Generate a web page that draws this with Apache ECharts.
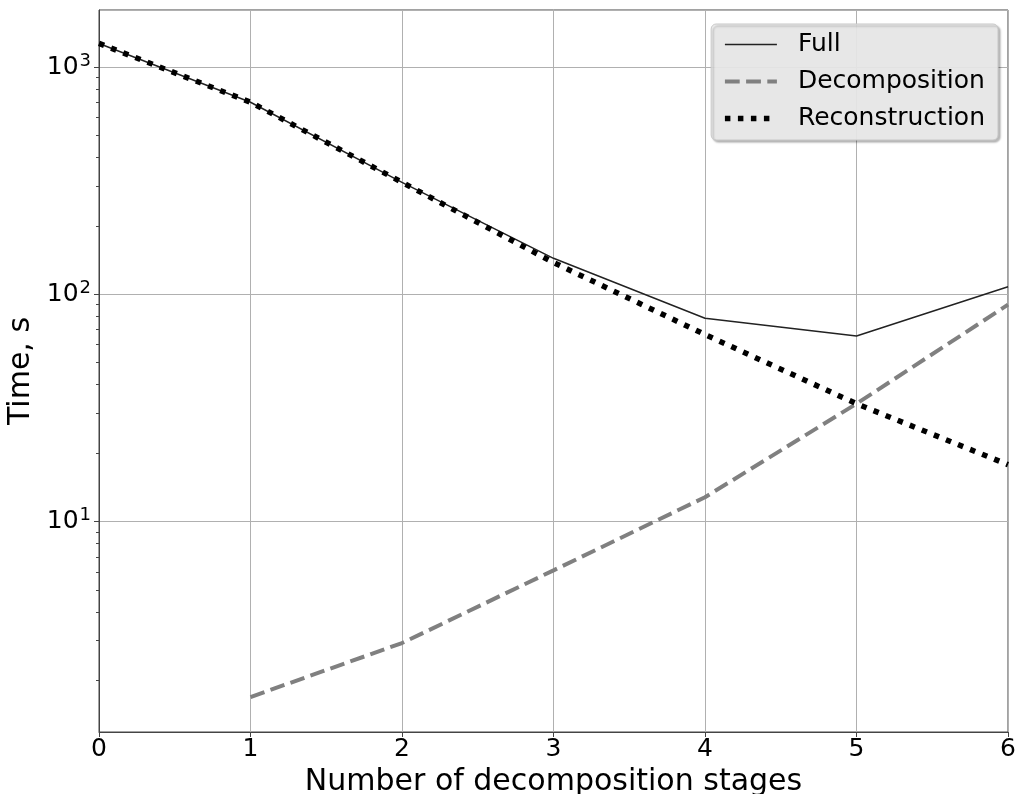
<!DOCTYPE html>
<html>
<head>
<meta charset="utf-8">
<script src="https://cdn.jsdelivr.net/npm/echarts@6/dist/echarts.min.js"></script>
<style>html,body{margin:0;padding:0;background:#fff}#c{width:1019px;height:794px}</style>
</head>
<body>
<div id="c"></div>
<script>
const stages = [0, 1, 2, 3, 4, 5, 6];
const fullTime = [1270, 700, 311, 144, 78.5, 65.5, 108];
const decompTime = [null, 1.69, 2.92, 6.1, 12.8, 33, 90];
const reconTime = [1270, 700, 311, 138, 66.5, 33, 17.8];
const xTicks = [0, 1, 2, 3, 4, 5, 6];
const yMajorTicks = [10, 100, 1000];
const yMinorTicks = [2,3,4,5,6,7,8,9,20,30,40,50,60,70,80,90,200,300,400,500,600,700,800,900];
const yMin = 1.186, yMax = 1782;

const pairs = arr => stages.map((s, i) => [s, arr[i]]).filter(p => p[1] != null);

const chart = echarts.init(document.getElementById('c'), null, {renderer: 'canvas'});
const FONT = 'DejaVu Sans';
chart.setOption({
  animation: false,
  textStyle: {fontFamily: FONT},
  grid: {left: 99, top: 10, right: 11, bottom: 62, show: true, borderColor: '#444', borderWidth: 1,
    containLabel: false, outerBoundsMode: 'none'},
  xAxis: {
    type: 'value', min: 0, max: 6, interval: 1,
    name: 'Number of decomposition stages', nameLocation: 'middle', nameGap: 26,
    nameTextStyle: {fontSize: 30, color: '#000', fontFamily: FONT},
    axisLine: {show: true, lineStyle: {color: '#444', width: 1}},
    axisTick: {show: true, inside: false, length: 5, lineStyle: {color: '#444'}},
    axisLabel: {fontSize: 25, color: '#000', margin: 5, fontFamily: FONT,
      formatter: v => xTicks.includes(v) ? String(v) : ''},
    splitLine: {show: true, lineStyle: {color: '#b0b0b0', width: 1}}
  },
  yAxis: [{
    type: 'log', logBase: 10, min: yMin, max: yMax,
    name: 'Time, s', nameLocation: 'middle', nameGap: 53, nameRotate: 90,
    nameTextStyle: {fontSize: 30, color: '#000', fontFamily: FONT},
    axisLine: {show: true, lineStyle: {color: '#444', width: 1}},
    axisTick: {show: true, length: 5, lineStyle: {color: '#444'}},
    axisLabel: {
      showMinLabel: false, showMaxLabel: false, margin: 8, color: '#000', fontFamily: FONT,
      formatter: v => {
        const e = Math.round(Math.log10(v));
        if (!yMajorTicks.some(t => Math.abs(t - v) / t < 1e-6)) return '';
        return '{b|10}{s|' + e + '}';
      },
      rich: {
        b: {fontSize: 25, color: '#000', fontFamily: FONT},
        s: {fontSize: 18, color: '#000', fontFamily: FONT, padding: [0, 0, 12, 1]}
      }
    },
    splitLine: {show: true, lineStyle: {color: '#b0b0b0', width: 1}}
  }, {
    type: 'value', min: Math.log10(yMin), max: Math.log10(yMax), position: 'left',
    axisLine: {show: false},
    axisLabel: {show: false},
    splitLine: {show: false},
    axisTick: {show: true, length: 3, lineStyle: {color: '#444'},
      customValues: yMinorTicks.map(v => Math.log10(v))}
  }],
  legend: {
    orient: 'vertical', right: 21, top: 24,
    itemWidth: 52, itemHeight: 14, itemGap: 12,
    padding: [8, 13, 9, 11],
    backgroundColor: 'rgba(236,236,236,0.9)', borderColor: '#c8c8c8', borderWidth: 1, borderRadius: 5,
    shadowColor: 'rgba(0,0,0,0.3)', shadowBlur: 2, shadowOffsetX: 2, shadowOffsetY: 2,
    itemStyle: {opacity: 0},
    textStyle: {fontSize: 25, color: '#000', fontFamily: FONT, padding: [0, 0, 0, 16]},
    data: [
      {name: 'Full', lineStyle: {width: 1.5}},
      {name: 'Decomposition', lineStyle: {width: 4}},
      {name: 'Reconstruction', lineStyle: {width: 5.5}}
    ]
  },
  series: [{
    name: 'Full', type: 'line', data: pairs(fullTime), symbol: 'none', z: 3,
    lineStyle: {color: '#222', width: 1.5},
    itemStyle: {color: '#222'}
  }, {
    name: 'Decomposition', type: 'line', data: pairs(decompTime), symbol: 'none', z: 2,
    lineStyle: {color: '#808080', width: 4, type: [14.8, 6.4], cap: 'butt'},
    itemStyle: {color: '#808080'}
  }, {
    name: 'Reconstruction', type: 'line', data: pairs(reconTime), symbol: 'none', z: 4,
    lineStyle: {color: '#000', width: 5.5, type: [5.5, 7.5], cap: 'butt'},
    itemStyle: {color: '#000'}
  }]
});
</script>
</body>
</html>
